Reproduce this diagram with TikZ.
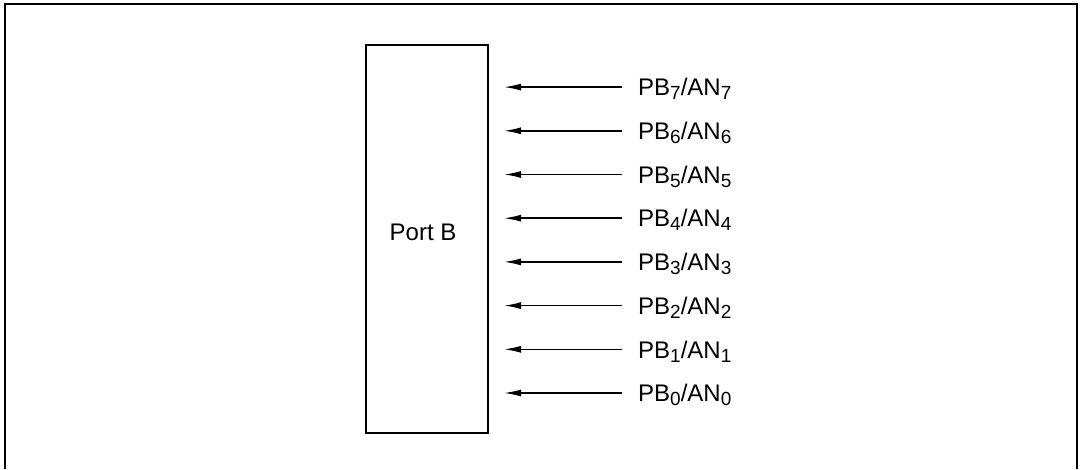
\documentclass[tikz,border=0pt]{standalone}
\usepackage{fontspec}
\setmainfont{Liberation Sans}
\usepackage{tikz}
\usetikzlibrary{arrows.meta}

\newcommand{\pinsub}[1]{\smash{\raisebox{-4pt}{\fontsize{19}{20}\selectfont #1}}}

\begin{document}
\begin{tikzpicture}[x=1pt, y=-1pt, font=\fontsize{24}{28}\selectfont,
    pinarrow/.style={line width=1.5pt, -{Latex[length=17pt, width=7pt]}}]
  \useasboundingbox (0,0) rectangle (1081,469);
  % outer frame, open at the bottom
  \draw[line width=2pt] (5,469) -- (5,4) -- (1077,4) -- (1077,469);
  \node[draw, line width=1.4pt, minimum width=122pt, minimum height=388pt, inner sep=0pt] (port) at (427,239) {};
  \node (portlbl) at (423,232) {Port B};
  \foreach \i in {0,...,7} {
    \node[anchor=west, inner sep=3pt, text depth=0pt] (pb\i) at (635,393-43.7*\i) {PB\pinsub{\i}/AN\pinsub{\i}};
    \coordinate (in\i) at (504,393-43.7*\i);
    \draw[pinarrow] (pb\i.west) ++(-13pt,0) -- (in\i);
  }
\end{tikzpicture}
\end{document}
